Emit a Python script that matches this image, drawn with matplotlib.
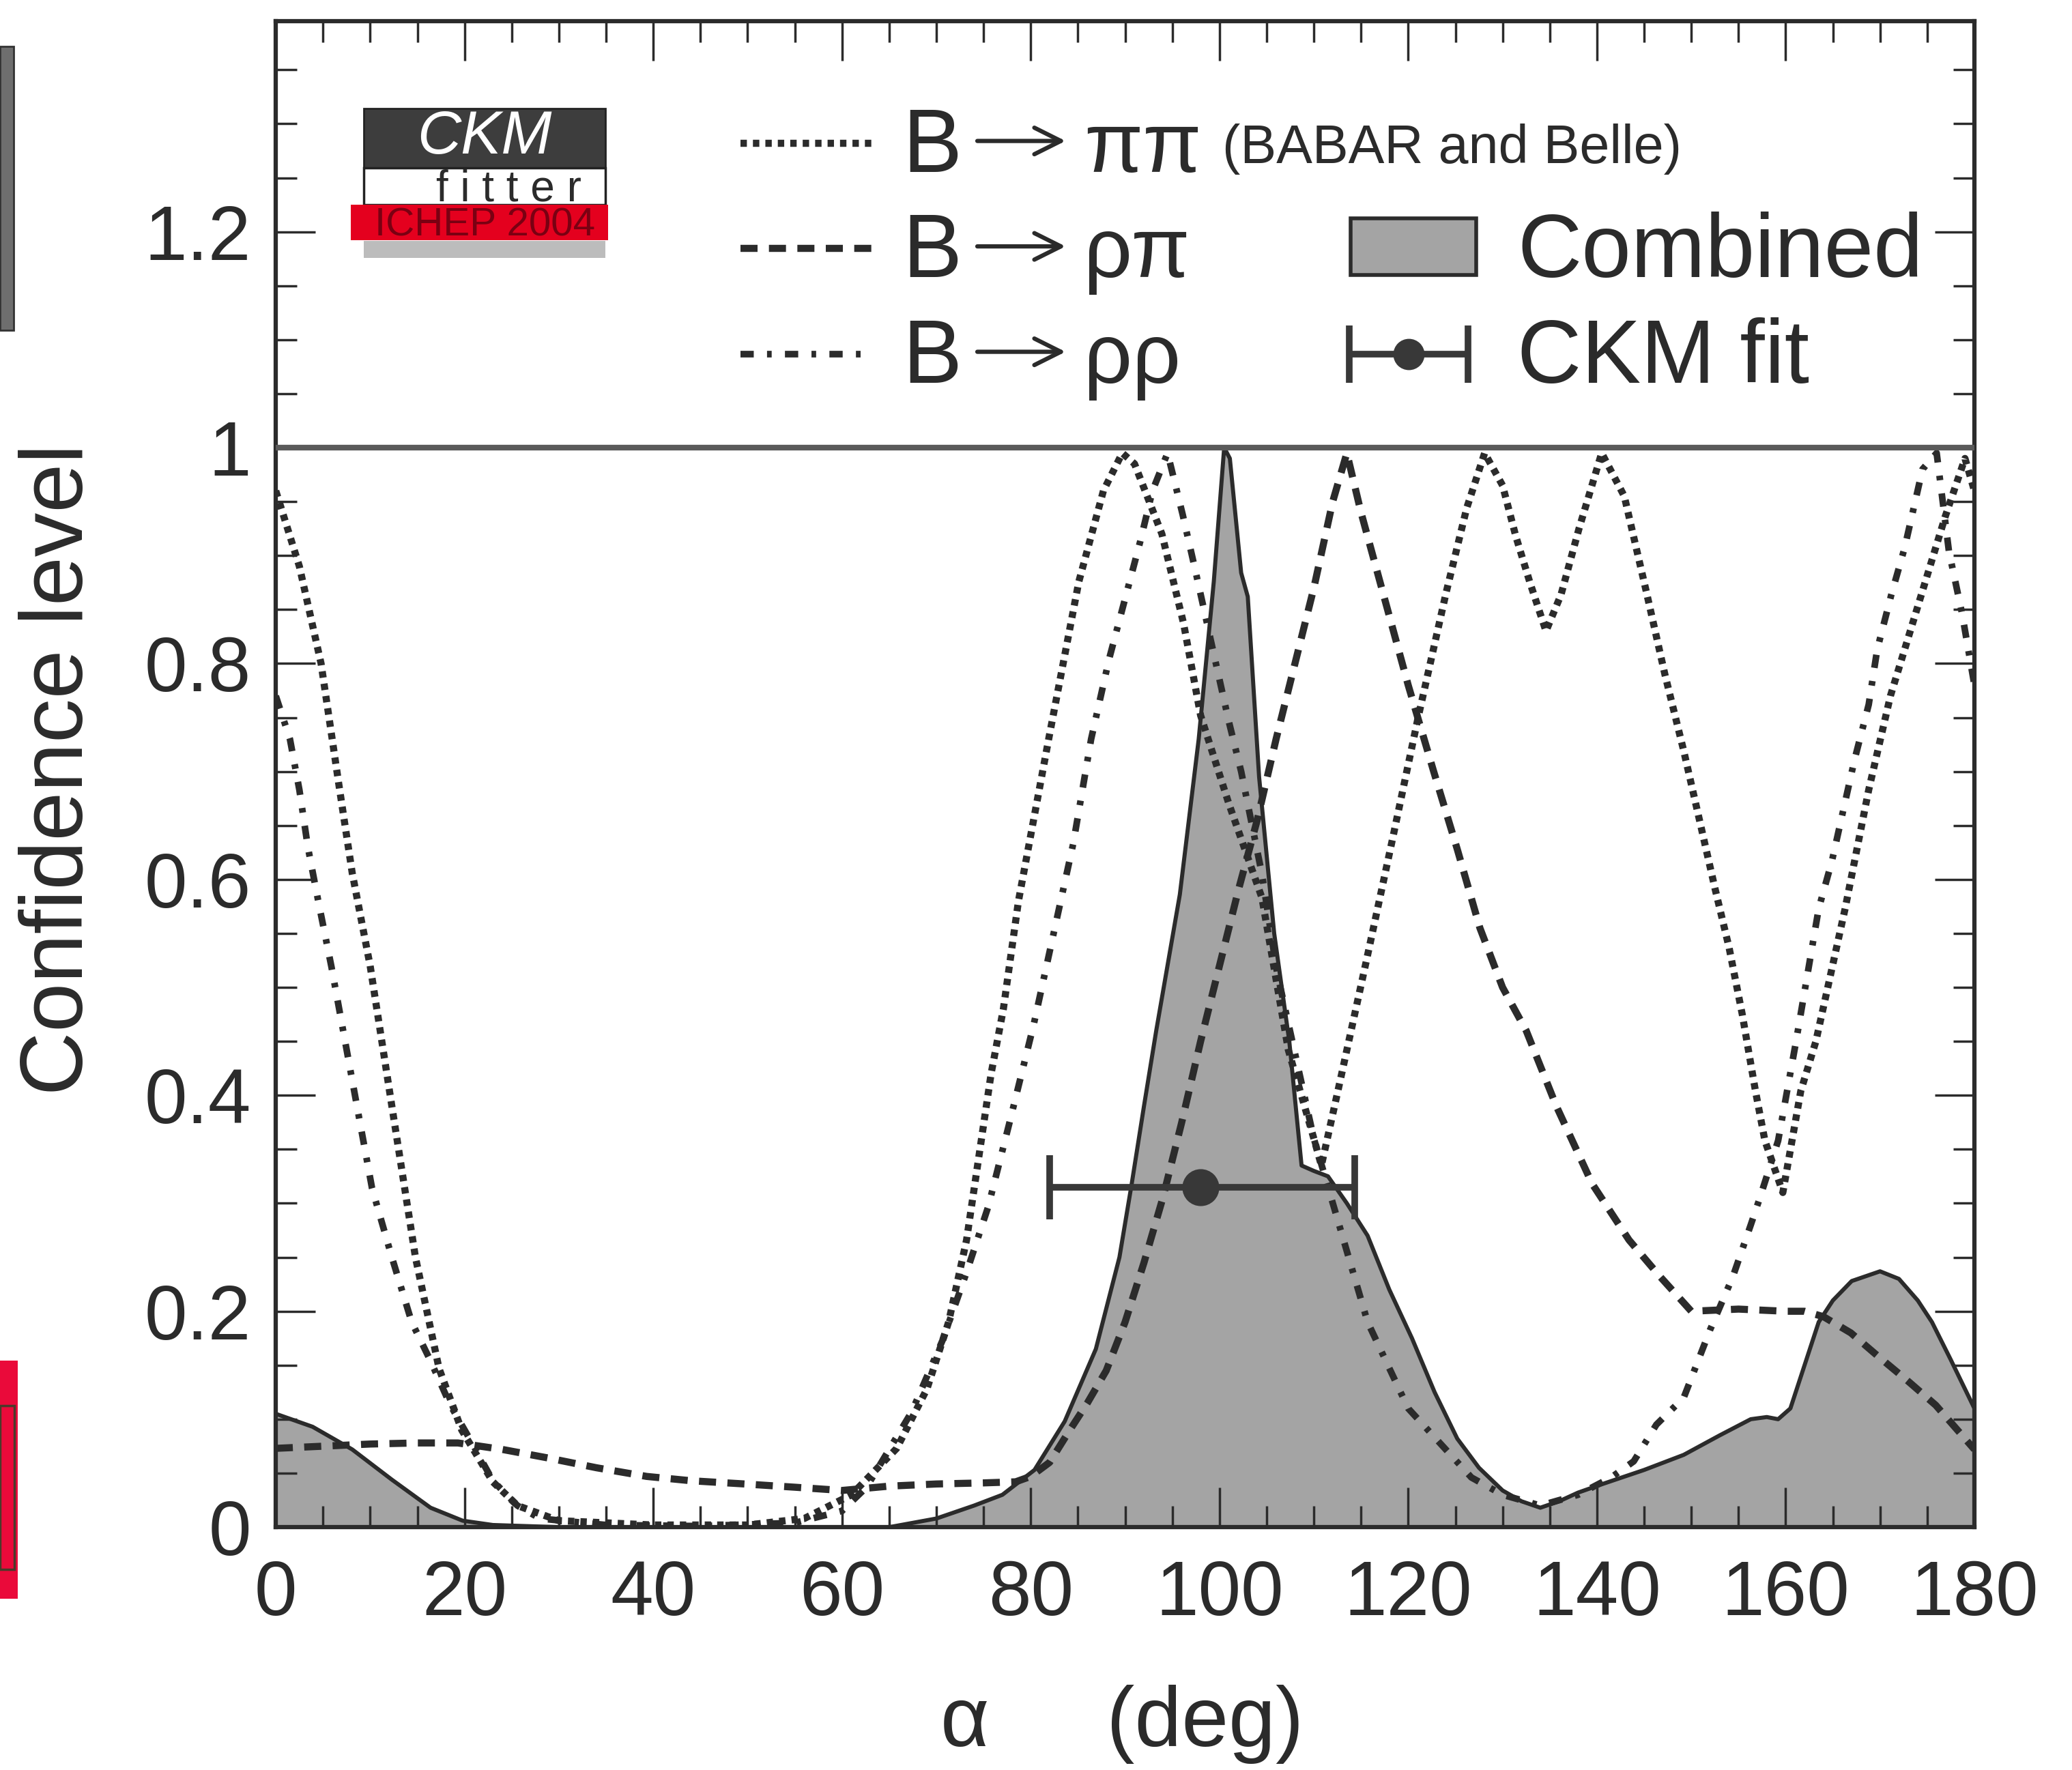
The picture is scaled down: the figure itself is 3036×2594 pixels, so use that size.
import matplotlib
matplotlib.use('Agg')
import matplotlib.pyplot as plt
from matplotlib.patches import Rectangle
from matplotlib.lines import Line2D
from matplotlib.ticker import MultipleLocator, FuncFormatter

plt.rcParams['font.family'] = ['Liberation Sans', 'DejaVu Sans']

# alpha scan (deg) and confidence level
pipiDeg = [0, 2.5, 4.8, 6.7, 8.1, 10, 12.3, 14.8, 17.3, 19.7, 23, 25.6, 30, 40, 50, 56, 61, 65.8, 69,
           71.3, 73.2, 74.5, 75.8, 77.1, 78.7, 81.9, 85.1, 87.7, 89.7, 91, 93.9, 96.2, 98, 101, 104.5,
           107.3, 110.1, 110.8, 112.8, 115.6, 118.4, 121.1, 124, 126.2, 128.1, 130, 131.4, 132.9, 134.6,
           136.2, 138.1, 140.5, 142.9, 145.3, 147.2, 149.2, 151.1, 152.5, 154, 155.4, 156.8, 157.8, 159.7,
           161.6, 163.2, 166.3, 168.8, 171.1, 174, 176.9, 179, 180]
pipiCl = [0.96, 0.89, 0.80, 0.687, 0.606, 0.52, 0.39, 0.25, 0.147, 0.09, 0.042, 0.02, 0.006, 0.002, 0.002,
          0.008, 0.03, 0.073, 0.128, 0.19, 0.266, 0.343, 0.42, 0.48, 0.58, 0.73, 0.876, 0.96, 0.995, 0.985,
          0.92, 0.837, 0.752, 0.67, 0.583, 0.442, 0.357, 0.335, 0.414, 0.526, 0.64, 0.752, 0.865, 0.944,
          0.995, 0.965, 0.918, 0.875, 0.83, 0.864, 0.925, 0.995, 0.955, 0.864, 0.79, 0.719, 0.646, 0.592,
          0.537, 0.475, 0.404, 0.358, 0.31, 0.404, 0.45, 0.573, 0.683, 0.77, 0.853, 0.936, 0.99, 0.96]

rhopiDeg = [0, 5, 10, 15, 19.3, 24, 28.9, 34, 39.3, 44, 49.7, 55, 60, 65, 70, 75, 78.4, 80, 82, 84, 86, 88,
            90, 92, 94, 96, 98, 100, 102, 104, 106, 108, 110, 112, 113.5, 115, 117.5, 120, 122.7, 125.2,
            127.6, 130, 132.5, 135.7, 139.5, 143.4, 146.7, 150, 155, 160, 162, 164, 166.9, 169.7, 173,
            175.9, 180]
rhopiCl = [0.073, 0.075, 0.077, 0.078, 0.078, 0.072, 0.064, 0.055, 0.047, 0.043, 0.04, 0.037, 0.034, 0.038,
           0.04, 0.041, 0.042, 0.047, 0.06, 0.088, 0.115, 0.145, 0.19, 0.245, 0.305, 0.375, 0.45, 0.52,
           0.59, 0.655, 0.73, 0.80, 0.87, 0.95, 0.995, 0.94, 0.86, 0.78, 0.70, 0.628, 0.555, 0.50, 0.46,
           0.39, 0.318, 0.266, 0.232, 0.20, 0.202, 0.20, 0.20, 0.195, 0.18, 0.159, 0.135, 0.113, 0.072]

rhorhoDeg = [0, 1.5, 2.5, 3.4, 4.5, 5.9, 8.1, 10.2, 12.3, 14.4, 16.4, 18.5, 20.6, 23, 25.6, 28, 35, 45, 55,
             60, 62.6, 67.4, 70.7, 73.2, 75.5, 77.7, 80.3, 84.5, 86.4, 88.3, 90.3, 91.6, 92.9, 94.5, 96.1,
             97.4, 99.7, 101, 102.3, 104.5, 106.1, 110, 115.7, 120, 126.7, 130, 134, 138, 141.5, 143.9,
             146.3, 149.2, 152, 154.4, 156.3, 157.3, 159.2, 161.1, 163.5, 164.9, 167.3, 168.8, 169.7,
             171.2, 172.6, 174.5, 176, 177.3, 178.7, 180]
rhorhoCl = [0.77, 0.73, 0.683, 0.63, 0.58, 0.519, 0.414, 0.314, 0.25, 0.19, 0.154, 0.113, 0.081, 0.043, 0.02,
            0.008, 0.002, 0.001, 0.004, 0.015, 0.037, 0.107, 0.174, 0.236, 0.297, 0.373, 0.465, 0.633,
            0.73, 0.804, 0.87, 0.913, 0.96, 0.995, 0.938, 0.888, 0.797, 0.746, 0.70, 0.605, 0.514, 0.36,
            0.19, 0.11, 0.046, 0.03, 0.02, 0.03, 0.046, 0.061, 0.095, 0.12, 0.183, 0.232, 0.28, 0.306,
            0.358, 0.45, 0.573, 0.617, 0.711, 0.762, 0.813, 0.864, 0.907, 0.98, 0.995, 0.904, 0.846, 0.78]

combDeg = [0, 3.9, 8.1, 12.3, 16.4, 19.8, 23, 30, 65, 70, 74, 77, 80.4, 83.6, 86.9, 89.4, 90.7, 92, 93.3,
           95.8, 97.8, 99.4, 100.5, 101.1, 102.3, 103, 104.2, 105.8, 107.4, 108.7, 110, 111.5, 113.5,
           115.7, 118, 120.4, 122.8, 125.2, 127.5, 130, 132, 134, 136, 138, 140.6, 145, 149.2, 153, 156.3,
           158, 159.2, 160.5, 162, 163.5, 165, 167, 170, 172, 174, 175.5, 177.5, 180]
combCl = [0.105, 0.093, 0.072, 0.044, 0.018, 0.006, 0.002, 0.0, 0.0, 0.008, 0.02, 0.03, 0.053, 0.098, 0.165,
          0.25, 0.318, 0.39, 0.46, 0.586, 0.73, 0.876, 1.0, 0.99, 0.884, 0.862, 0.695, 0.55, 0.45, 0.335,
          0.33, 0.325, 0.30, 0.27, 0.22, 0.175, 0.125, 0.082, 0.055, 0.034, 0.024, 0.018, 0.024, 0.032,
          0.04, 0.053, 0.067, 0.085, 0.10, 0.102, 0.10, 0.11, 0.15, 0.19, 0.21, 0.228, 0.237, 0.23, 0.21,
          0.19, 0.155, 0.11]

# CKM fit result: alpha with asymmetric errors, drawn at a fixed CL height
fitAlpha = 98.0
fitErrLow = 16.0
fitErrHigh = 16.3
fitCl = 0.315

xTicks = [0, 20, 40, 60, 80, 100, 120, 140, 160, 180]

ink = '#2b2b2b'
fillGrey = '#a4a4a4'
dotStyle = (0, (0.9, 0.85))
dashStyle = (0, (2.4, 1.6))
dashDotStyle = (0, (2.0, 2.0, 0.7, 2.0))

fig = plt.figure(figsize=(30.36, 25.94), dpi=100)
ax = fig.add_axes([0.1331, 0.1372, 0.8198, 0.8508])

ax.fill_between(combDeg, combCl, 0, facecolor=fillGrey, edgecolor='none', zorder=1)
ax.plot(combDeg, combCl, color=ink, lw=4.3, zorder=3)

ax.plot(pipiDeg, pipiCl, color=ink, lw=7.5, linestyle=dotStyle, zorder=4)
ax.plot(rhopiDeg, rhopiCl, color=ink, lw=7.5, linestyle=dashStyle, zorder=4)
ax.plot(rhorhoDeg, rhorhoCl, color=ink, lw=7.0, linestyle=dashDotStyle, zorder=4)

ax.errorbar([fitAlpha], [fitCl], xerr=[[fitErrLow], [fitErrHigh]], fmt='o', color='#383838',
            ms=38, elinewidth=7, capsize=34, capthick=7, zorder=6)

ax.axhline(1.0, color='#5a5a5a', lw=6, zorder=5)

ax.set_xlim(0, 180)
ax.set_ylim(0, 1.395)
ax.set_xticks(xTicks)
ax.xaxis.set_minor_locator(MultipleLocator(5))
ax.yaxis.set_major_locator(MultipleLocator(0.2))
ax.yaxis.set_minor_locator(MultipleLocator(0.05))
ax.yaxis.set_major_formatter(FuncFormatter(lambda v, p: f'{v:g}'))

ax.tick_params(which='both', direction='in', top=True, right=True, colors=ink, width=2.5)
ax.tick_params(which='major', length=42, labelsize=81)
ax.tick_params(which='minor', length=22)
ax.tick_params(axis='x', which='major', pad=34)
ax.tick_params(axis='y', which='major', pad=26)
for sp in ax.spines.values():
    sp.set_color(ink)
    sp.set_linewidth(4.5)

fig.text(0.0287, 0.5655, 'Confidence level', rotation=90, ha='center', va='center',
         fontsize=93, color=ink)
fig.text(0.5415, 0.0258, 'α     (deg)', ha='center', va='center', fontsize=89, color=ink)

# legend, drawn by hand in axes fractions
tr = ax.transAxes
legendRows = [
    (0.919, 0.900, dotStyle, 7.5, 'ππ'),
    (0.849, 0.830, dashStyle, 7.5, 'ρπ'),
    (0.779, 0.760, dashDotStyle, 7.0, 'ρρ'),
]
for yLine, yBase, style, lw, final in legendRows:
    ax.add_line(Line2D([0.2734, 0.3512], [yLine, yLine], transform=tr, color=ink, lw=lw,
                       linestyle=style, zorder=7))
    ax.text(0.369, yBase, 'B', transform=tr, fontsize=94, color=ink, va='baseline', ha='left')
    # the decay arrow, drawn as a thin open-headed arrow like the original
    yArrow = yBase + 0.0205
    ax.annotate('', xy=(0.4650, yArrow), xytext=(0.4130, yArrow), xycoords=tr, textcoords=tr,
                arrowprops=dict(arrowstyle='->', color=ink, lw=4.5, mutation_scale=70,
                                shrinkA=0, shrinkB=0))
    ax.text(0.4757, yBase, final, transform=tr, fontsize=90, color=ink, va='baseline', ha='left')
ax.text(0.5574, 0.906, '(BABAR and Belle)', transform=tr, fontsize=57, color=ink, va='baseline')

ax.add_patch(Rectangle((0.6327, 0.8316), 0.074, 0.0377, transform=tr, facecolor=fillGrey,
                       edgecolor=ink, lw=4, zorder=7))
ax.text(0.7309, 0.830, 'Combined', transform=tr, fontsize=94, color=ink, va='baseline')

ax.errorbar([0.667], [0.779], xerr=[[0.035], [0.035]], fmt='o', color='#383838', ms=32,
            elinewidth=7, capsize=30, capthick=7, transform=tr, zorder=7, clip_on=False)
ax.text(0.7309, 0.760, 'CKM fit', transform=tr, fontsize=94, color=ink, va='baseline')

# CKMfitter logo with the red marker stroke over the conference tag
ax.add_patch(Rectangle((0.0517, 0.9026), 0.1425, 0.0394, transform=tr, facecolor='#3d3d3d',
                       edgecolor='#222222', lw=2, zorder=7))
ax.text(0.123, 0.9225, 'CKM', transform=tr, fontsize=64, style='italic', color='white',
        ha='center', va='center', zorder=8)
ax.add_patch(Rectangle((0.0517, 0.878), 0.1425, 0.0246, transform=tr, facecolor='white',
                       edgecolor='#222222', lw=2.5, zorder=7))
ax.text(0.137, 0.8805, 'f i t t e r', transform=tr, fontsize=46, color=ink,
        ha='center', va='baseline', zorder=8)
ax.add_patch(Rectangle((0.0517, 0.843), 0.1425, 0.011, transform=tr, facecolor='#bcbcbc',
                       edgecolor='none', zorder=7))
ax.add_patch(Rectangle((0.044, 0.8545), 0.1515, 0.0235, transform=tr, facecolor='#e4001e',
                       edgecolor='none', zorder=8))
ax.text(0.123, 0.8575, 'ICHEP 2004', transform=tr, fontsize=42, color='#7a0012',
        ha='center', va='baseline', zorder=9)

# bits of the neighbouring page that show at the left edge of the scan
fig.patches.append(Rectangle((0, 0.8134), 0.0066, 0.1604, transform=fig.transFigure,
                             facecolor='#6e6e6e', edgecolor='#333333', lw=2))
fig.patches.append(Rectangle((0, 0.0968), 0.0086, 0.1345, transform=fig.transFigure,
                             facecolor='#ea0a3a', edgecolor='none'))
fig.patches.append(Rectangle((0, 0.1134), 0.0070, 0.0924, transform=fig.transFigure,
                             facecolor='none', edgecolor='#4a3a2a', lw=2.5))

fig.savefig('out.png', dpi=100, facecolor='white')
